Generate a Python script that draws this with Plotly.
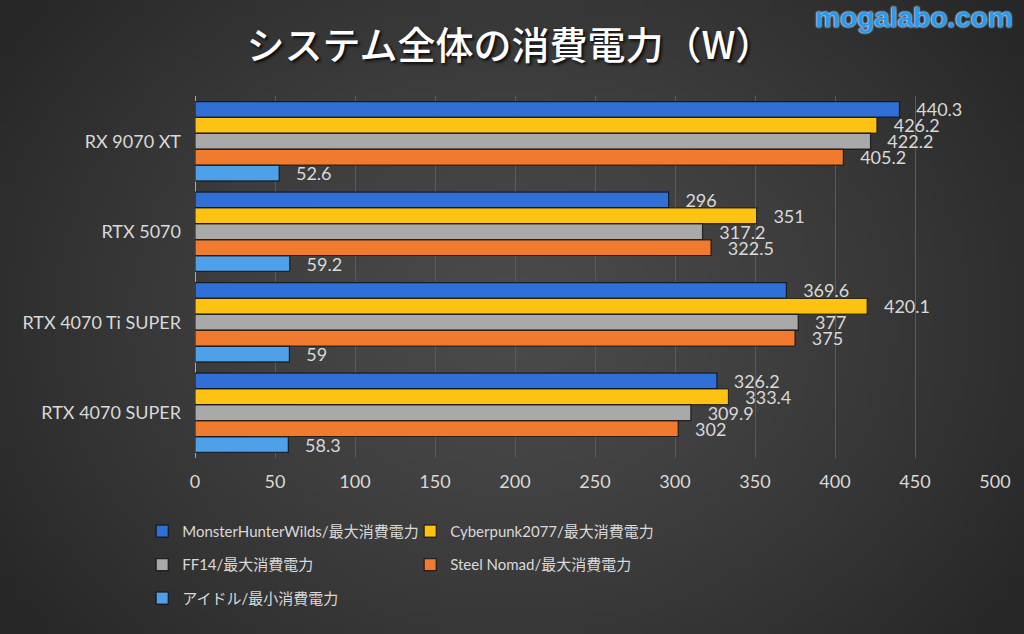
import zlib, struct, base64
import plotly.graph_objects as go

# ---------------- data ----------------
gpus = ["RX 9070 XT", "RTX 5070", "RTX 4070 Ti SUPER", "RTX 4070 SUPER"]
series_names = [
    "MonsterHunterWilds/最大消費電力",
    "Cyberpunk2077/最大消費電力",
    "FF14/最大消費電力",
    "Steel Nomad/最大消費電力",
    "アイドル/最小消費電力",
]
mh_wilds = [440.3, 296, 369.6, 326.2]
cyberpunk = [426.2, 351, 420.1, 333.4]
ff14 = [422.2, 317.2, 377, 309.9]
steel_nomad = [405.2, 322.5, 375, 302]
idle = [52.6, 59.2, 59, 58.3]
x_ticks = [0, 50, 100, 150, 200, 250, 300, 350, 400, 450, 500]

series_values = [mh_wilds, cyberpunk, ff14, steel_nomad, idle]
colors = ["#2f6fd6", "#fec312", "#a9a9a9", "#f07a2e", "#4ea1e8"]
legend_ref = ["legend", "legend2", "legend", "legend2", "legend"]

# ---------------- background gradient (styling only) ----------------
def gradient_png(w, h):
    rows = []
    for j in range(h):
        row = bytearray([0])
        for i in range(w):
            dx = (i / (w - 1) - 0.5) / 0.6
            dy = (j / (h - 1) - 0.5) / 0.8
            t = min(1.0, (dx * dx + dy * dy) ** 0.5)
            v = int(round(0x4a + (0x27 - 0x4a) * (t ** 1.3)))
            row += bytes([v, v, v])
        rows.append(bytes(row))
    raw = b"".join(rows)

    def chunk(tag, data):
        c = struct.pack(">I", len(data)) + tag + data
        return c + struct.pack(">I", zlib.crc32(tag + data) & 0xffffffff)

    png = b"\x89PNG\r\n\x1a\n"
    png += chunk(b"IHDR", struct.pack(">IIBBBBB", w, h, 8, 2, 0, 0, 0))
    png += chunk(b"IDAT", zlib.compress(raw, 9))
    png += chunk(b"IEND", b"")
    return "data:image/png;base64," + base64.b64encode(png).decode()

bg = gradient_png(160, 100)

LAT = "Lato, 'Noto Sans CJK JP', sans-serif"
TXT = "#d9d9d9"

fig = go.Figure()
for name, vals, col, lg in zip(series_names, series_values, colors, legend_ref):
    fig.add_trace(go.Bar(
        name=name,
        y=gpus,
        x=vals,
        orientation="h",
        marker=dict(color=col, line=dict(color="rgba(10,10,10,0.75)", width=1.2)),
        text=vals,
        texttemplate="\u00a0\u00a0\u00a0%{x}",
        textposition="outside",
        textfont=dict(family=LAT, size=18, color=TXT),
        constraintext="none",
        cliponaxis=False,
        legend=lg,
        legendgroup=name,
        hoverinfo="skip",
    ))

W, H = 1024, 634
ml, mr, mt, mb = 195, 29, 96, 176
pw, ph = W - ml - mr, H - mt - mb

fig.update_layout(
    width=W, height=H,
    margin=dict(l=ml, r=mr, t=mt, b=mb, pad=0),
    paper_bgcolor="#383838",
    plot_bgcolor="rgba(0,0,0,0)",
    barmode="group",
    bargap=0.12,
    bargroupgap=0.02,
    font=dict(family=LAT, color=TXT, size=17),
    title=dict(
        text="システム全体の消費電力（W）",
        x=0.498, xref="container", xanchor="center",
        y=0.928, yref="container", yanchor="middle",
        font=dict(family="'Noto Sans CJK JP', sans-serif", size=38, color="#ffffff",
                  weight=500, shadow="2px 2px 3px rgba(0,0,0,0.8)"),
    ),
    xaxis=dict(
        range=[0, 500],
        tickvals=x_ticks,
        ticktext=[str(v) for v in x_ticks],
        showgrid=True, gridcolor="#5a5a5a", gridwidth=1,
        zeroline=True, zerolinecolor="#a8a8a8", zerolinewidth=1,
        showline=False,
        ticks="",
        ticklabelstandoff=11,
        tickfont=dict(family=LAT, size=18, color=TXT),
        fixedrange=True,
    ),
    yaxis=dict(
        autorange="reversed",
        showgrid=False, zeroline=False, showline=False,
        ticks="",
        ticklabelstandoff=13,
        tickfont=dict(family=LAT, size=18, color=TXT),
        fixedrange=True,
    ),
    legend=dict(
        orientation="v",
        x=-0.066, xanchor="left", xref="paper",
        y=-0.157, yanchor="top", yref="paper",
        bgcolor="rgba(0,0,0,0)",
        font=dict(family=LAT, size=15, color=TXT),
        tracegroupgap=11,
        itemwidth=30,
    ),
    legend2=dict(
        orientation="v",
        x=0.269, xanchor="left", xref="paper",
        y=-0.157, yanchor="top", yref="paper",
        bgcolor="rgba(0,0,0,0)",
        font=dict(family=LAT, size=15, color=TXT),
        tracegroupgap=11,
        itemwidth=30,
    ),
    images=[dict(
        source=bg, xref="paper", yref="paper",
        x=-ml / pw, y=1 + mt / ph, sizex=W / pw, sizey=H / ph,
        xanchor="left", yanchor="top", sizing="stretch", layer="below",
    )],
    annotations=[dict(
        text="<b>mogalabo.com</b>",
        xref="paper", yref="paper",
        x=1 + (mr - 9) / pw, y=1 + (mt - 17) / ph,
        xanchor="right", yanchor="middle",
        showarrow=False,
        font=dict(family="'Liberation Sans', Arial, sans-serif", size=28, color="#2a98ee",
                  shadow="0 0 2px #d8f2ff, 0 0 2px #d8f2ff"),
    )],
)

fig.write_html(
    "out.html",
    config={"displayModeBar": False, "staticPlot": True},
    post_script="document.body.style.margin='0';document.body.style.overflow='hidden';",
)
